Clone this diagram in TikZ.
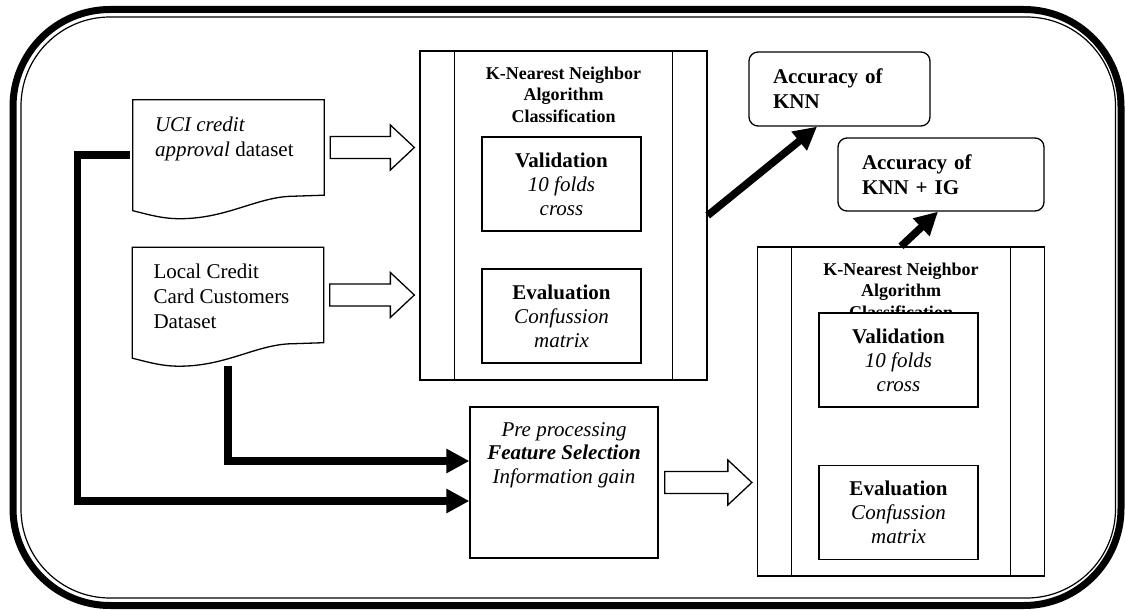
\documentclass[tikz,border=0pt]{standalone}
\usepackage{fontspec}
\setmainfont{Liberation Serif}
\usetikzlibrary{arrows.meta,calc}

\tikzset{
  frameline/.style={line width=1.3pt},
  docbox/.style={minimum width=191pt, minimum height=95pt, inner sep=0pt},
  doctext/.style={anchor=north west, inner sep=0pt, align=left},
  knnbox/.style={draw, frameline, minimum width=287pt, minimum height=329pt, inner sep=0pt},
  knntitle/.style={font=\fontsize{18}{21.5}\selectfont\bfseries, align=center, inner sep=0pt},
  innerbox/.style={draw, fill=white, frameline, minimum width=159pt, minimum height=94pt,
    align=center, inner sep=0pt, font=\fontsize{21}{24}\selectfont},
  accbox/.style={draw, frameline, rounded corners=9pt, inner xsep=24pt, inner ysep=0pt,
    align=left, font=\fontsize{21}{25}\selectfont\bfseries},
  thickarrow/.style={line width=7.5pt, -{Triangle[length=23pt,width=23pt]}}
}

% hollow block arrow between two anchors
\newcommand{\hollowarrow}[2]{%
  \draw[frameline, fill=white] let \p1=($(#1)+(6,0)$), \p2=($(#2)+(-5,0)$) in
    (\x1,\y1-11pt) -- (\x2-24pt,\y1-11pt) -- (\x2-24pt,\y1-22.5pt) -- (\x2,\y1)
    -- (\x2-24pt,\y1+22.5pt) -- (\x2-24pt,\y1+11pt) -- (\x1,\y1+11pt) -- cycle;}

\begin{document}
\begin{tikzpicture}[x=1pt,y=-1pt,font=\fontsize{21}{25}\selectfont]
    \useasboundingbox (0,0) rectangle (1125,610);

    % Double frame round everything
    \draw[line width=7pt,rounded corners=97pt] (13,9.5) rectangle (1121,605.5);
    \draw[line width=1.2pt,rounded corners=89pt] (21,17) rectangle (1115.5,598);

    % Data sets
    \node[docbox] (ucidoc) at (228.5,147.5) {};
    \node[docbox] (localdoc) at (228,295) {};
    \foreach \d in {ucidoc,localdoc} {
        \draw[frameline] (\d.south east) -- (\d.north east) -- (\d.north west)
            -- ($(\d.south west)+(0,15.5)$)
            .. controls ($(\d.south west)+(18,20)$) and ($(\d.south west)+(30,23.5)$) .. ($(\d.south west)+(47,23.5)$)
            .. controls ($(\d.south west)+(95,23.5)$) and ($(\d.south west)+(125,1)$) .. ($(\d.south east)+(-30,1)$)
            -- cycle;
    }
    \node[doctext] (ucitext) at ($(ucidoc.north west)+(22,16.5)$) {\textit{UCI credit}\\\textit{approval} dataset};
    \node[doctext] (localtext) at ($(localdoc.north west)+(21,16.5)$) {Local Credit\\Card Customers\\Dataset};

    % Classifier without feature selection
    \node[knnbox] (knnA) at (563.5,215.5) {};
    \node[knntitle] (titleA) at ($(knnA.north)+(0,44)$) {K-Nearest Neighbor\\Algorithm\\Classification};
    \node[innerbox] (valA) at (561.5,184) {\textbf{Validation}\\\textit{10 folds}\\\textit{cross}};
    \node[innerbox] (evalA) at (561.5,316) {\textbf{Evaluation}\\\textit{Confussion}\\\textit{matrix}};

    % Classifier after feature selection
    \node[knnbox] (knnB) at (901,411.5) {};
    \node[knntitle] (titleB) at ($(knnB.north)+(0,44)$) {K-Nearest Neighbor\\Algorithm\\Classification};
    \node[innerbox] (valB) at (898.5,360) {\textbf{Validation}\\\textit{10 folds}\\\textit{cross}};
    \node[innerbox] (evalB) at (898.5,512.5) {\textbf{Evaluation}\\\textit{Confussion}\\\textit{matrix}};

    \foreach \k in {knnA,knnB} {
        \draw[line width=1.1pt] ($(\k.north west)+(35,0)$) -- ($(\k.south west)+(35,0)$);
        \draw[line width=1.1pt] ($(\k.north east)+(-35,0)$) -- ($(\k.south east)+(-35,0)$);
    }

    % Results
    \node[accbox, text width=133pt, minimum height=74pt] (accA) at (839.5,89) {Accuracy of\\KNN};
    \node[accbox, text width=158pt, minimum height=73pt] (accB) at (941,174.5) {Accuracy of\\KNN + IG};

    % Pre processing
    \node[draw, frameline, minimum width=188pt, minimum height=151pt] (preproc) at (564,482.5) {};
    \node[anchor=north, inner sep=0pt, align=center, font=\fontsize{21}{23.5}\selectfont] (preproctext)
        at ($(preproc.north)+(0,15.7)$) {\textit{Pre processing}\\\textbf{\textit{Feature Selection}}\\\textit{Information gain}};

    % Hollow arrows
    \hollowarrow{ucidoc.east}{knnA.west}
    \hollowarrow{localdoc.east}{knnA.west}
    \hollowarrow{preproc.east}{knnB.west}

    % Thick arrows
    \coordinate (leftbend) at (77.5,501);
    \draw[thickarrow] ($(localdoc.south)+(0,23)$) |- ($(preproc.west)+(0,-21.5)$);
    \draw[thickarrow] ($(ucidoc.west)+(-3,7.5)$) -| (leftbend) -- (preproc.west |- leftbend);
    \draw[thickarrow] (knnA.east) -- ($(accA.south)+(-22.5,0)$);
    \draw[thickarrow] (knnB.north) -- ($(accB.south)+(-3,0)$);
\end{tikzpicture}
\end{document}
